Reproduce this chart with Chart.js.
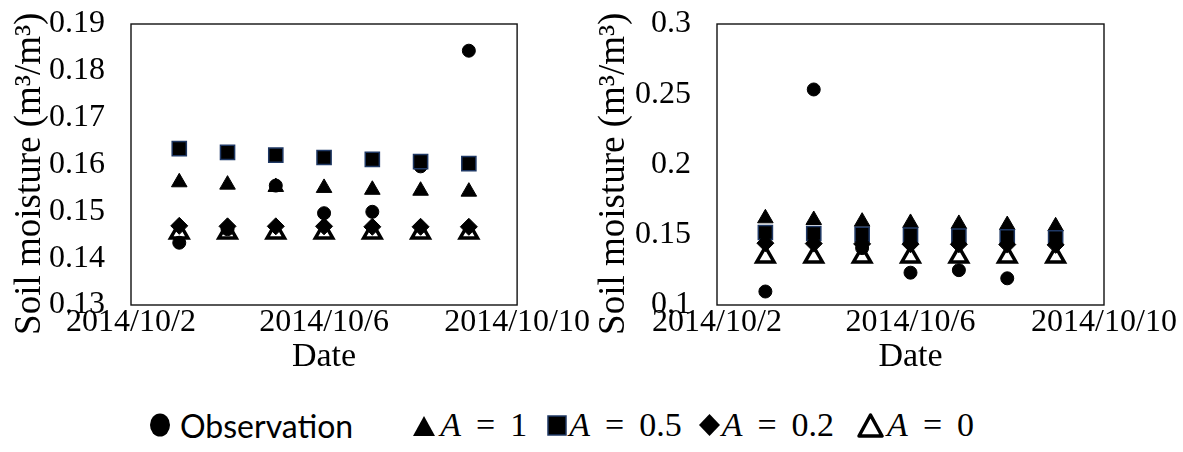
<!DOCTYPE html>
<html>
<head>
<meta charset="utf-8">
<script src="https://cdn.jsdelivr.net/npm/chart.js@4.4.1/dist/chart.umd.min.js"></script>
<style>
body { margin: 0; background: #fff; }
#wrap { position: relative; width: 1183px; height: 452px; overflow: hidden; }
#left { position: absolute; left: 0; top: 0; }
#right { position: absolute; left: 590px; top: 0; }
#legend { position: absolute; left: 147px; top: 403px; height: 44px; display: flex; align-items: center; white-space: nowrap; }
.item { display: flex; align-items: center; }
.obs { font-family: Lato; font-size: 32px; }
.math { font-family: 'Liberation Serif'; font-size: 34px; }
.math .eq { margin: 0 15px; }
</style>
</head>
<body>
<div id="wrap">
  <canvas id="left" width="590" height="385"></canvas>
  <canvas id="right" width="593" height="385"></canvas>
  <div id="legend"></div>
</div>
<script>
// dates with data, and the x axis tick labels
var dates = ['2014/10/3', '2014/10/4', '2014/10/5', '2014/10/6', '2014/10/7', '2014/10/8', '2014/10/9'];
var xTicks = ['2014/10/2', '2014/10/6', '2014/10/10'];
var seriesNames = ['Observation', 'A = 1', 'A = 0.5', 'A = 0.2', 'A = 0'];

// left panel (m3/m3)
var leftYTicks = ['0.13', '0.14', '0.15', '0.16', '0.17', '0.18', '0.19'];
var obsLeft = [0.1433, 0.1462, 0.1555, 0.1496, 0.1499, 0.1596, 0.1843];
var a1Left = [0.1562, 0.1557, 0.1552, 0.1550, 0.1546, 0.1544, 0.1542];
var a05Left = [0.1634, 0.1626, 0.1620, 0.1615, 0.1611, 0.1606, 0.1602];
var a02Left = [0.1469, 0.1468, 0.1468, 0.1468, 0.1467, 0.1467, 0.1467];
var a0Left = [0.1454, 0.1454, 0.1454, 0.1454, 0.1454, 0.1454, 0.1454];

// right panel (m3/m3)
var rightYTicks = ['0.1', '0.15', '0.2', '0.25', '0.3'];
var obsRight = [0.1096, 0.2534, 0.1405, 0.1230, 0.1248, 0.1190, 0.1484];
var a1Right = [0.1617, 0.1605, 0.1593, 0.1584, 0.1577, 0.1569, 0.1560];
var a05Right = [0.1516, 0.1509, 0.1503, 0.1497, 0.1491, 0.1485, 0.1479];
var a02Right = [0.1440, 0.1437, 0.1435, 0.1433, 0.1432, 0.1430, 0.1428];
var a0Right = [0.1342, 0.1342, 0.1342, 0.1342, 0.1342, 0.1342, 0.1342];

// day of month used as x value
function dayOf(s) { return Number(s.split('/')[2]); }
var days = dates.map(dayOf);
var tickDays = xTicks.map(dayOf);

// marker look for each series (same order as seriesNames)
var markers = [
    { style: 'circle', r: 6.5, fill: '#000', line: '#000', w: 1 },
    { style: 'triangle', r: 9, fill: '#000', line: '#000', w: 1 },
    { style: 'rect', r: 10, fill: '#000', line: '#1f3864', w: 1.5 },
    { style: 'rectRot', r: 8.5, fill: '#000', line: '#000', w: 1 },
    { style: 'triangle', r: 10, fill: 'rgba(0,0,0,0)', line: '#000', w: 3.5 }
];

// black frame around the plot area
var frame = {
    id: 'frame',
    beforeDatasetsDraw: function (chart) {
        var a = chart.chartArea, ctx = chart.ctx;
        ctx.save();
        ctx.strokeStyle = '#111';
        ctx.lineWidth = 1.4;
        ctx.strokeRect(a.left, a.top, a.right - a.left, a.bottom - a.top);
        ctx.restore();
    }
};

Chart.defaults.font.family = 'Liberation Serif';
Chart.defaults.color = '#000';

function makeChart(id, series, yTicks, yWidth, padRight, titlePad) {
    var datasets = series.map(function (vals, i) {
        var m = markers[i];
        return {
            label: seriesNames[i],
            data: vals.map(function (v, j) { return { x: days[j], y: v }; }),
            pointStyle: m.style,
            pointRadius: m.r,
            backgroundColor: m.fill,
            borderColor: m.line,
            borderWidth: m.w,
            showLine: false,
            order: series.length - i
        };
    });
    return new Chart(document.getElementById(id), {
        type: 'scatter',
        data: { datasets: datasets },
        options: {
            responsive: false,
            animation: false,
            layout: { padding: { left: 0, right: padRight, top: 24, bottom: 0 } },
            plugins: { legend: { display: false }, tooltip: { enabled: false } },
            scales: {
                x: {
                    type: 'linear',
                    min: tickDays[0],
                    max: tickDays[tickDays.length - 1],
                    grid: { display: false, drawTicks: false },
                    border: { display: false },
                    afterFit: function (s) { s.height = 80; },
                    afterBuildTicks: function (s) {
                        s.ticks = tickDays.map(function (d) { return { value: d }; });
                    },
                    ticks: {
                        autoSkip: false,
                        maxRotation: 0,
                        padding: 0,
                        font: { size: 32, lineHeight: 1.1 },
                        callback: function (v) {
                            var k = tickDays.indexOf(v);
                            return k < 0 ? '' : xTicks[k];
                        }
                    },
                    title: { display: true, text: 'Date', font: { size: 34 }, padding: { top: 0, bottom: 8 } }
                },
                y: {
                    min: Number(yTicks[0]),
                    max: Number(yTicks[yTicks.length - 1]),
                    grid: { display: false, drawTicks: false },
                    border: { display: false },
                    afterFit: function (s) {
                        s.width = yWidth;
                        s.paddingTop = 0;
                        s.paddingBottom = 0;
                    },
                    afterBuildTicks: function (s) {
                        s.ticks = yTicks.map(function (t) { return { value: Number(t) }; });
                    },
                    ticks: {
                        padding: 26,
                        font: { size: 32 },
                        callback: function (v) {
                            var k = yTicks.map(Number).indexOf(v);
                            return k < 0 ? '' : yTicks[k];
                        }
                    },
                    // trailing en space nudges the rotated title a little lower, as in the original
                    title: { display: true, text: 'Soil moisture (m³/m³)\u2002', font: { size: 37 }, padding: { top: titlePad, bottom: 0 } }
                }
            }
        },
        plugins: [frame]
    });
}

makeChart('left', [obsLeft, a1Left, a05Left, a02Left, a0Left], leftYTicks, 131, 72, 8);
makeChart('right', [obsRight, a1Right, a05Right, a02Right, a0Right], rightYTicks, 127, 79, 2);

// legend under both panels: marker width, gap to text, space after item
var legendBox = [
    { w: 26, gap: 7, after: 60 },
    { w: 22, gap: 5, after: 20 },
    { w: 20, gap: 2, after: 17 },
    { w: 21, gap: 2, after: 23 },
    { w: 27, gap: 3, after: 0 }
];
function markerSvg(i) {
    var b = legendBox[i];
    var s = '<svg width="' + b.w + '" height="28" style="margin-right:' + b.gap + 'px">';
    if (i === 0) s += '<ellipse cx="13" cy="14" rx="10" ry="11.5" fill="#000"/>';
    if (i === 1) s += '<polygon points="11,5 22,25 0,25" fill="#000"/>';
    if (i === 2) s += '<rect x="1" y="5" width="18" height="19" fill="#000" stroke="#1f3864" stroke-width="1.5"/>';
    if (i === 3) s += '<polygon points="10.5,3 21,14 10.5,25 0,14" fill="#000"/>';
    if (i === 4) s += '<polygon points="13.5,4 25,25 2,25" fill="none" stroke="#000" stroke-width="3.5" stroke-linejoin="round"/>';
    return s + '</svg>';
}
var legend = document.getElementById('legend');
seriesNames.forEach(function (name, i) {
    var text;
    if (name.indexOf('A = ') === 0) {
        text = '<span class="math"><i>A</i><span class="eq">=</span>' + name.slice(4) + '</span>';
    } else {
        text = '<span class="obs">' + name + '</span>';
    }
    var item = document.createElement('span');
    item.className = 'item';
    item.style.marginRight = legendBox[i].after + 'px';
    item.innerHTML = markerSvg(i) + text;
    legend.appendChild(item);
});
</script>
</body>
</html>
